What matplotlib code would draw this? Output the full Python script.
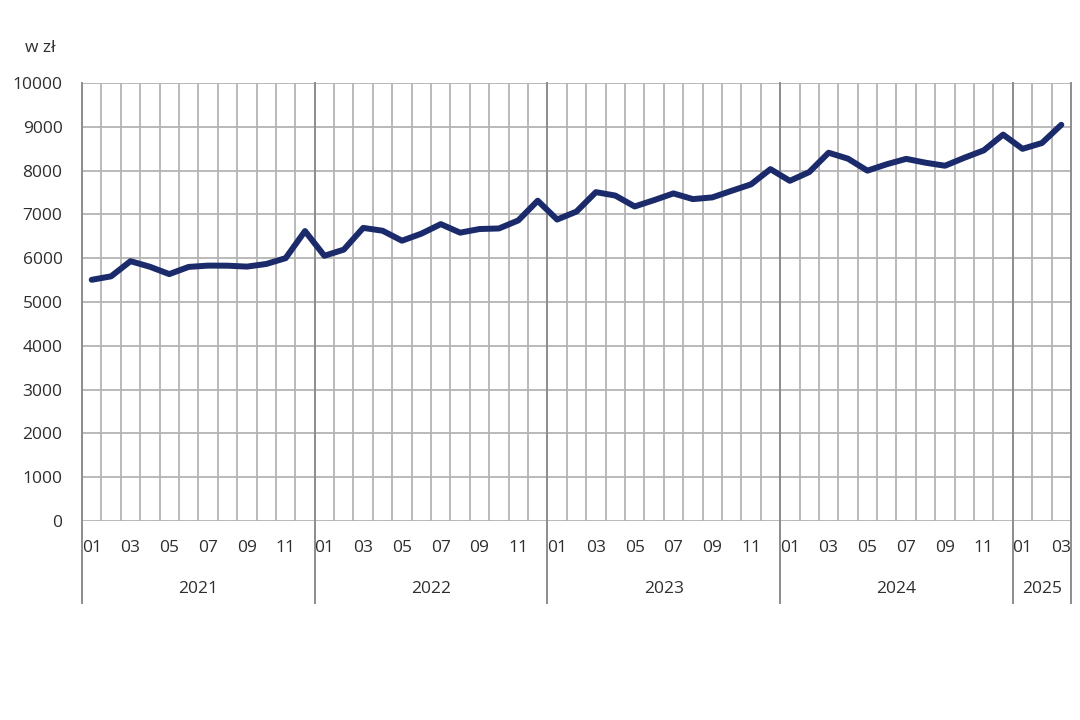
import matplotlib
matplotlib.use("Agg")
import matplotlib.pyplot as plt
import matplotlib.transforms as mtransforms

plt.rcParams['font.family'] = ['Open Sans', 'DejaVu Sans']

# average monthly wage, Jan 2021 - Mar 2025
years = ['2021', '2022', '2023', '2024', '2025']
months_per_year = [12, 12, 12, 12, 3]
month_labels = ['01', '03', '05', '07', '09', '11']
wages = [
    5507, 5586, 5932, 5805, 5637, 5801, 5831, 5829, 5808, 5868, 6001, 6619,
    6055, 6196, 6692, 6627, 6400, 6560, 6778, 6583, 6666, 6679, 6863, 7313,
    6883, 7065, 7508, 7430, 7181, 7326, 7479, 7349, 7388, 7539, 7686, 8033,
    7767, 7966, 8408, 8272, 7999, 8145, 8268, 8180, 8111, 8293, 8462, 8822,
    8497, 8629, 9046,
]
yticks = list(range(0, 10001, 1000))

grid_col = '#b4b4b4'
year_col = '#8c8c8c'
text_col = '#2e2e2e'
line_col = '#1b2a6b'

fig = plt.figure(figsize=(10.8, 7.2), dpi=100)
ax = fig.add_axes([82 / 1080, 1 - 521 / 720, 989 / 1080, 438 / 720])

n = len(wages)
ax.set_xlim(0, n)
ax.set_ylim(0, 10000)

for y in yticks:
    ax.axhline(y, color=grid_col, lw=1.3, zorder=1)

# month boundaries
year_starts = []
pos = 0
for cnt in months_per_year:
    year_starts.append(pos)
    pos += cnt
for i in range(n + 1):
    if i in year_starts or i == n:
        continue
    ax.axvline(i, color=grid_col, lw=1.3, zorder=1)

# year separators extend below the axis
trans = mtransforms.blended_transform_factory(ax.transData, ax.transAxes)
for x in year_starts + [n]:
    ax.plot([x, x], [-0.187, 1], color=year_col, lw=1.4, transform=trans,
            clip_on=False, zorder=1)

xs = [i + 0.5 for i in range(n)]
ax.plot(xs, wages, color=line_col, lw=4.3, solid_joinstyle='round',
        solid_capstyle='round', zorder=3)

for s in ax.spines.values():
    s.set_visible(False)
ax.set_xticks([])
ax.set_yticks(yticks)
ax.set_yticklabels([str(v) for v in yticks], fontsize=12.5, color=text_col)
ax.tick_params(axis='y', length=0, pad=14)

# month and year labels
for start, cnt, yr in zip(year_starts, months_per_year, years):
    for m in range(0, cnt, 2):
        ax.text(start + m + 0.5, -0.0616, month_labels[m // 2], transform=trans,
                ha='center', va='center', fontsize=12.5, color=text_col)
    ax.text(start + cnt / 2, -0.155, yr, transform=trans, ha='center',
            va='center', fontsize=12.5, color=text_col)

fig.text(40 / 1080, 1 - 48 / 720, 'w zł', ha='center', va='center',
         fontsize=12.5, color=text_col)

fig.savefig('out.png', dpi=100, facecolor='white')
